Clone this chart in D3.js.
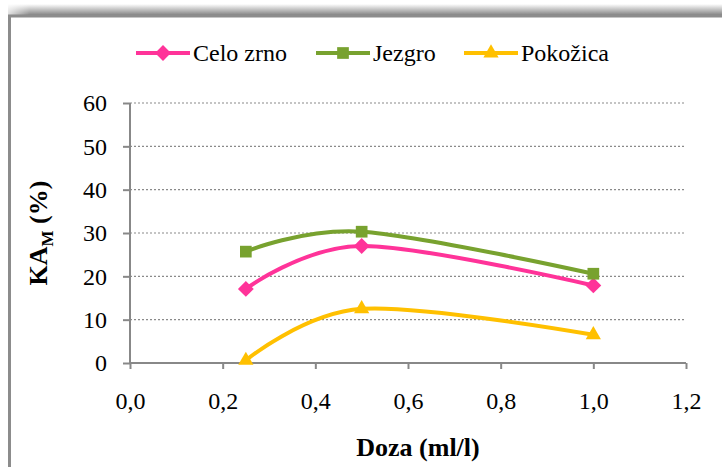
<!DOCTYPE html>
<html>
<head>
<meta charset="utf-8">
<script src="https://cdn.jsdelivr.net/npm/d3@7"></script>
<style>
  body { margin: 0; background: #fff; }
  svg { display: block; font-family: "Liberation Serif", "Times New Roman", serif; }
</style>
</head>
<body>
<script>
// Data
var doses = [0.25, 0.5, 1.0];
var celoZrno = [17.1, 27.0, 17.9];
var jezgro = [25.7, 30.3, 20.6];
var pokozica = [0.6, 12.5, 6.5];
var seriesNames = ["Celo zrno", "Jezgro", "Pokožica"];
var xTicks = [0, 0.2, 0.4, 0.6, 0.8, 1.0, 1.2];
var yTicks = [0, 10, 20, 30, 40, 50, 60];

var colors = ["#ff3399", "#78a22f", "#ffc000"];
// diamond = square turned 45 degrees
var symbols = [d3.symbolSquare, d3.symbolSquare, d3.symbolTriangle];
var symbolSizes = [125, 137, 100];
var symbolRot = [45, 0, 0];

var width = 722, height = 467;
var margin = {top: 103, right: 36, bottom: 104, left: 130};
var innerW = width - margin.left - margin.right,
    innerH = height - margin.top - margin.bottom;

var svg = d3.select("body")
  .append("svg")
    .attr("width", width)
    .attr("height", height);

// frame with shadow on top
var defs = svg.append("defs");
var grad = defs.append("linearGradient")
    .attr("id", "topShade")
    .attr("x1", 0).attr("y1", 0).attr("x2", 0).attr("y2", 1);
grad.append("stop").attr("offset", "0%").attr("stop-color", "#ffffff");
grad.append("stop").attr("offset", "100%").attr("stop-color", "#7a7a7a");
var gradL = defs.append("linearGradient")
    .attr("id", "leftFade")
    .attr("x1", 0).attr("y1", 0).attr("x2", 1).attr("y2", 0);
gradL.append("stop").attr("offset", "0%").attr("stop-color", "#fff").attr("stop-opacity", 1);
gradL.append("stop").attr("offset", "100%").attr("stop-color", "#fff").attr("stop-opacity", 0);

svg.append("rect")
    .attr("x", 8).attr("y", 4)
    .attr("width", width).attr("height", 12)
    .attr("fill", "url(#topShade)");
svg.append("rect")
    .attr("x", 0).attr("y", 0)
    .attr("width", 30).attr("height", 16)
    .attr("fill", "url(#leftFade)");
svg.append("rect")
    .attr("x", 9.5).attr("y", 16)
    .attr("width", width + 20).attr("height", height)
    .attr("fill", "#fff")
    .attr("stroke", "#8c8c8c")
    .attr("stroke-width", 3);

var g = svg.append("g")
    .attr("transform", "translate(" + margin.left + "," + margin.top + ")");

var x = d3.scaleLinear()
  .domain([0, 1.2])
  .range([0, innerW]);
var y = d3.scaleLinear()
  .domain([0, 60])
  .range([innerH, 0]);

// gridlines
g.append("g")
  .selectAll("line")
  .data(yTicks.slice(1))
  .enter()
  .append("line")
    .attr("x1", 0).attr("x2", innerW)
    .attr("y1", function(d) { return y(d); })
    .attr("y2", function(d) { return y(d); })
    .attr("stroke", "#8a8a8a")
    .attr("stroke-width", 1.2)
    .attr("stroke-dasharray", "2,2");

// Y axis
var yAxis = g.append("g")
  .call(d3.axisLeft(y).tickValues(yTicks).tickSize(7).tickPadding(16));
yAxis.attr("font-family", null).attr("font-size", null);
yAxis.selectAll("path, line").attr("stroke", "#888").attr("stroke-width", 2);
yAxis.select(".domain").attr("d", "M0," + innerH + "V0");
yAxis.selectAll("text")
  .style("font-family", "'Liberation Serif', serif")
  .style("font-size", "24px")
  .attr("fill", "#000");

// X axis
var xAxis = g.append("g")
  .attr("transform", "translate(0," + innerH + ")")
  .call(d3.axisBottom(x).tickValues(xTicks).tickSize(6).tickPadding(23)
    .tickFormat(function(d) { return d3.format(".1f")(d).replace(".", ","); }));
xAxis.attr("font-family", null).attr("font-size", null);
xAxis.selectAll("path, line").attr("stroke", "#888").attr("stroke-width", 2);
xAxis.select(".domain").attr("d", "M0,0H" + innerW);
xAxis.selectAll("text")
  .style("font-family", "'Liberation Serif', serif")
  .style("font-size", "24px")
  .attr("fill", "#000");

// axis titles
svg.append("text")
  .attr("x", 418)
  .attr("y", 456)
  .attr("text-anchor", "middle")
  .style("font-size", "26px")
  .style("font-weight", "bold")
  .text("Doza (ml/l)");

var yTitle = svg.append("text")
  .attr("transform", "translate(47," + (margin.top + innerH / 2) + ") rotate(-90)")
  .attr("text-anchor", "middle")
  .style("font-size", "26px")
  .style("font-weight", "bold");
yTitle.append("tspan").text("KA");
yTitle.append("tspan").attr("dy", 6).style("font-size", "17px").text("M");
yTitle.append("tspan").attr("dy", -6).text(" (%)");

// lines
var allSeries = [celoZrno, jezgro, pokozica];
var line = d3.line()
  .x(function(d, i) { return x(doses[i]); })
  .y(function(d) { return y(d); })
  .curve(d3.curveCardinal.tension(0));

allSeries.forEach(function(vals, s) {
  g.append("path")
    .datum(vals)
    .attr("d", line)
    .attr("fill", "none")
    .attr("stroke", colors[s])
    .attr("stroke-width", 4);

  g.append("g")
    .selectAll("path")
    .data(vals)
    .enter()
    .append("path")
      .attr("d", d3.symbol().type(symbols[s]).size(symbolSizes[s]))
      .attr("transform", function(d, i) {
        return "translate(" + x(doses[i]) + "," + y(d) + ") rotate(" + symbolRot[s] + ")";
      })
      .attr("fill", colors[s]);
});

// legend
var legendX = [136, 316, 464];
var legend = svg.append("g");
seriesNames.forEach(function(name, s) {
  var lg = legend.append("g").attr("transform", "translate(" + legendX[s] + ",53)");
  lg.append("line")
    .attr("x1", 0).attr("x2", 54)
    .attr("stroke", colors[s])
    .attr("stroke-width", 4);
  lg.append("path")
    .attr("d", d3.symbol().type(symbols[s]).size(symbolSizes[s]))
    .attr("transform", "translate(27,0) rotate(" + symbolRot[s] + ")")
    .attr("fill", colors[s]);
  lg.append("text")
    .attr("x", 57)
    .attr("y", 8)
    .style("font-size", "24px")
    .text(name);
});
</script>
</body>
</html>
